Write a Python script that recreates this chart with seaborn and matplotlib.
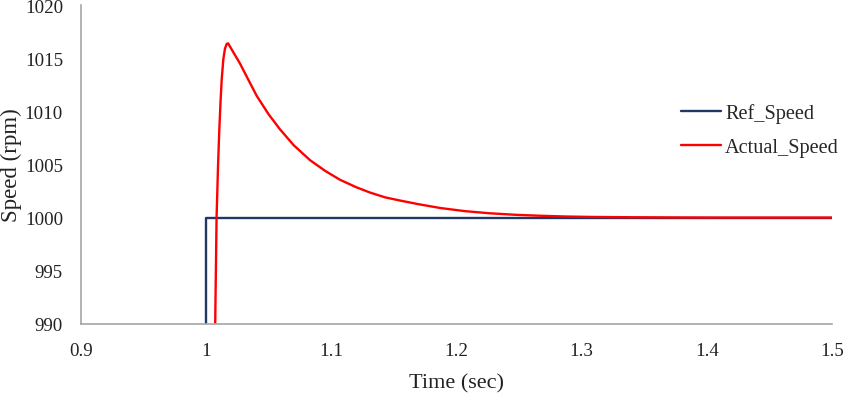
import numpy as np
import pandas as pd
import matplotlib
matplotlib.use("Agg")
import matplotlib.pyplot as plt
import seaborn as sns

# Data
ref_time = [0.9, 1.0, 1.0, 1.5]
ref_speed = [900, 900, 1000, 1000]

act_time = [0.9, 1.0065, 1.0072, 1.0083, 1.0095, 1.0105, 1.0115, 1.0124, 1.0137, 1.0150,
            1.0164, 1.0175, 1.0190, 1.0215, 1.0270, 1.0340, 1.0404, 1.0500, 1.0590,
            1.0700, 1.0830, 1.0950, 1.1070, 1.1200, 1.1310, 1.1430, 1.1550, 1.1700,
            1.1870, 1.2070, 1.2270, 1.2470, 1.2670, 1.2870, 1.3070, 1.3400, 1.3800,
            1.4200, 1.5000]
act_speed = [900, 980, 990, 1000, 1005.0, 1008.3, 1011.0, 1013.0, 1014.9, 1015.9,
             1016.35, 1016.4, 1016.1, 1015.6, 1014.5, 1012.9, 1011.45, 1009.7, 1008.3,
             1006.8, 1005.4, 1004.4, 1003.55, 1002.85, 1002.35, 1001.9, 1001.6, 1001.25,
             1000.9, 1000.6, 1000.4, 1000.26, 1000.17, 1000.1, 1000.06, 1000.03, 1000.01,
             1000.0, 1000.0]

df_ref = pd.DataFrame({"Time": ref_time, "Speed": ref_speed})
df_act = pd.DataFrame({"Time": act_time, "Speed": act_speed})

sns.set_style("white")
plt.rcParams["font.family"] = ["Liberation Serif", "DejaVu Serif"]

fig = plt.figure(figsize=(8.5, 4.06), dpi=100)
ax = fig.add_axes([0.0953, 0.2, 0.8836, 0.785])

sns.lineplot(data=df_ref, x="Time", y="Speed", ax=ax, sort=False, estimator=None,
             color="#1F3864", linewidth=1.7, label="Ref_Speed")
sns.lineplot(data=df_act, x="Time", y="Speed", ax=ax, sort=False, estimator=None,
             color="#FF0000", linewidth=1.7, label="Actual_Speed")

ax.set_xlim(0.9, 1.5)
ax.set_ylim(990, 1020)
ax.set_xticks([0.9, 1.0, 1.1, 1.2, 1.3, 1.4, 1.5])
ax.set_xticklabels(["0.9", "1", "1.1", "1.2", "1.3", "1.4", "1.5"])
ax.set_yticks([990, 995, 1000, 1005, 1010, 1015, 1020])
ax.tick_params(axis="both", length=0, labelsize=13.6, colors="#222222")
ax.tick_params(axis="x", pad=13)
ax.tick_params(axis="y", pad=13)

ax.set_xlabel("Time (sec)", fontsize=16, color="#222222", labelpad=10)
ax.set_ylabel("Speed (rpm)", fontsize=16.5, color="#222222")
ax.yaxis.set_label_coords(-0.079, 0.5)

for s in ["top", "right"]:
    ax.spines[s].set_visible(False)
for s in ["left", "bottom"]:
    ax.spines[s].set_color("#A6A6A6")
    ax.spines[s].set_linewidth(1.2)

ax.legend(loc="center left", bbox_to_anchor=(0.774, 0.608), frameon=False,
          fontsize=14.6, handlelength=2.0, handletextpad=0.2, labelspacing=0.75)

fig.savefig("out.png", dpi=100)
